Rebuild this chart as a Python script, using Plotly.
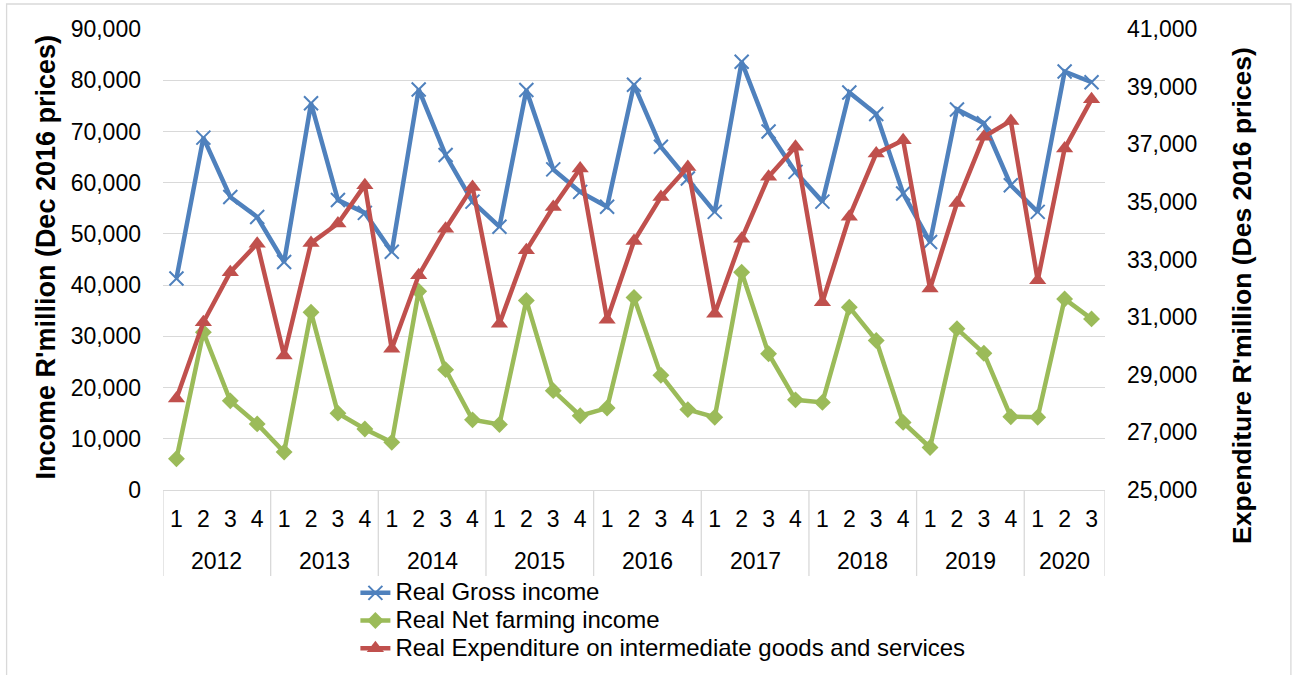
import plotly.graph_objects as go

years = ["2012", "2013", "2014", "2015", "2016", "2017", "2018", "2019", "2020"]
quarters_in_year = [4, 4, 4, 4, 4, 4, 4, 4, 3]

gross_income = [41300, 68800, 57200, 53300,
                44500, 75500, 56600, 54100,
                46500, 78200, 65400, 56300,
                51400, 78100, 62600, 58200,
                55300, 79100, 67000, 60800,
                54300, 83600, 70000, 62100,
                56300, 77600, 73400, 57900,
                48400, 74300, 71600, 59500,
                54300, 81700, 79600]

net_farming_income = [6100, 30800, 17400, 12900,
                      7400, 34700, 15000, 11900,
                      9300, 38800, 23500, 13700,
                      12800, 37000, 19400, 14500,
                      16000, 37600, 22400, 15700,
                      14200, 42500, 26600, 17600,
                      17100, 35700, 29200, 13200,
                      8300, 31500, 26700, 14300,
                      14200, 37300, 33400]

expenditure = [28180, 30820, 32560, 33550,
               29670, 33570, 34250, 35580,
               29900, 32450, 34070, 35520,
               30770, 33320, 34820, 36160,
               30910, 33640, 35170, 36210,
               31120, 33720, 35870, 36910,
               31520, 34480, 36680, 37140,
               31990, 34960, 37260, 37810,
               32280, 36850, 38560]

series_names = ["Real Gross income",
                "Real Net farming income",
                "Real Expenditure on intermediate goods and services"]

# category keys and labels
cat_keys, cat_labels = [], []
for y, n in zip(years, quarters_in_year):
    for q in range(1, n + 1):
        cat_keys.append(f"{y} Q{q}")
        cat_labels.append(str(q))

BLUE = "#4F81BD"
GREEN = "#9BBB59"
RED = "#C0504D"
GRID = "#D9D9D9"
FONT = "Liberation Sans"
FS = 23


def legend_name(s):
    return f"<span style='font-size:24px'>{s}</span>"


fig = go.Figure()
fig.add_trace(go.Scatter(
    x=cat_keys, y=gross_income, name=legend_name(series_names[0]), mode="lines+markers",
    line=dict(color=BLUE, width=4.5),
    marker=dict(symbol="x-thin", size=14, color=BLUE, line=dict(color=BLUE, width=2))))
fig.add_trace(go.Scatter(
    x=cat_keys, y=net_farming_income, name=legend_name(series_names[1]), mode="lines+markers",
    line=dict(color=GREEN, width=4.5),
    marker=dict(symbol="diamond", size=13, color=GREEN)))
fig.add_trace(go.Scatter(
    x=cat_keys, y=expenditure, name=legend_name(series_names[2]),
    mode="lines+markers", yaxis="y2",
    line=dict(color=RED, width=4.5),
    marker=dict(symbol="triangle-up", size=15, color=RED)))

L, R, T, B = 162.5, 187, 29, 185
W, H = 1292, 675
pw, ph = W - L - R, H - T - B


def px_x(px):
    return (px - L) / pw


def px_y(py):
    return (H - B - py) / ph


shapes = []
# year dividers
bound = -0.5
bounds = [bound]
for n in quarters_in_year:
    bound += n
    bounds.append(bound)
for b in bounds:
    shapes.append(dict(type="line", xref="x", yref="paper", x0=b, x1=b,
                       y0=0, y1=px_y(576), line=dict(color=GRID, width=1.3)))
# outer border
shapes.append(dict(type="rect", xref="paper", yref="paper",
                   x0=px_x(6), x1=px_x(1291), y0=px_y(4), y1=px_y(677),
                   line=dict(color=GRID, width=1.3), fillcolor="rgba(0,0,0,0)"))

annotations = []
start = 0
for y, n in zip(years, quarters_in_year):
    center = start + (n - 1) / 2
    annotations.append(dict(x=center, y=px_y(561), xref="x", yref="paper", text=y,
                            showarrow=False, font=dict(family=FONT, size=FS, color="#000"),
                            xanchor="center", yanchor="middle"))
    start += n

annotations.append(dict(x=px_x(45), y=px_y(257), xref="paper", yref="paper",
                        text="<b>Income R'million (Dec 2016 prices)</b>", textangle=-90,
                        showarrow=False, font=dict(family=FONT, size=27, color="#000"),
                        xanchor="center", yanchor="middle"))
annotations.append(dict(x=px_x(1242), y=px_y(295), xref="paper", yref="paper",
                        text="<b>Expenditure R'million (Des 2016 prices)</b>", textangle=-90,
                        showarrow=False, font=dict(family=FONT, size=26.5, color="#000"),
                        xanchor="center", yanchor="middle"))

fig.update_layout(
    width=W, height=H,
    margin=dict(l=L, r=R, t=T, b=B, autoexpand=False),
    paper_bgcolor="white", plot_bgcolor="white",
    font=dict(family=FONT, size=FS, color="#000"),
    showlegend=True,
    legend=dict(orientation="v", x=px_x(355), y=px_y(574), xanchor="left", yanchor="top",
                font=dict(family=FONT, size=19, color="#000"), tracegroupgap=0,
                bgcolor="rgba(0,0,0,0)"),
    xaxis=dict(type="category", tickmode="array", tickvals=cat_keys, ticktext=cat_labels,
               showgrid=False, showline=True, linecolor=GRID, linewidth=1.3,
               ticks="", ticklabelstandoff=8, range=[-0.5, len(cat_keys) - 0.5],
               tickfont=dict(family=FONT, size=FS, color="#000"), zeroline=False),
    yaxis=dict(range=[0, 90000], dtick=10000, tickformat=",", showgrid=True,
               gridcolor=GRID, gridwidth=1.3, zeroline=False, showline=False,
               ticks="", ticklabelstandoff=21,
               tickfont=dict(family=FONT, size=FS, color="#000")),
    yaxis2=dict(range=[25000, 41000], tick0=25000, dtick=2000, tickformat=",",
                overlaying="y", side="right", showgrid=False, zeroline=False,
                showline=False, ticks="", ticklabelstandoff=21,
                tickfont=dict(family=FONT, size=FS, color="#000")),
    shapes=shapes, annotations=annotations,
)

fig.write_html("out.html")
